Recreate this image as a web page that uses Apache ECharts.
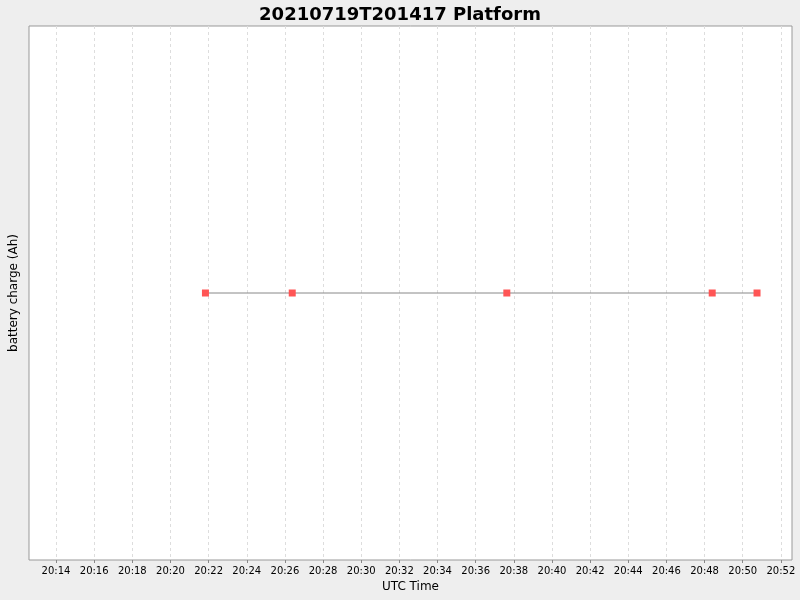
<!DOCTYPE html>
<html><head><meta charset="utf-8">
<script src="https://cdn.jsdelivr.net/npm/echarts@6/dist/echarts.min.js"></script>
<style>html,body{margin:0;background:#eeeeee}#c{width:800px;height:600px}</style>
</head><body><div id="c"></div>
<script>
const times = ["2021-07-19T20:21:50Z","2021-07-19T20:26:23Z","2021-07-19T20:37:38Z","2021-07-19T20:48:24Z","2021-07-19T20:50:45Z"];
const values = [0,0,0,0,0];
const tickLabels = ["20:14","20:16","20:18","20:20","20:22","20:24","20:26","20:28","20:30","20:32","20:34","20:36","20:38","20:40","20:42","20:44","20:46","20:48","20:50","20:52"];
const xMin = "2021-07-19T20:12:35Z", xMax = "2021-07-19T20:52:35Z";
const tickVals = tickLabels.map(s => new Date("2021-07-19T"+s+":00Z").getTime());
const chart = echarts.init(document.getElementById('c'));
const pad = n => String(n).padStart(2,'0');
chart.setOption({
  backgroundColor: '#eeeeee',
  title: {text: '20210719T201417 Platform', left: 'center', top: 1,
    textStyle: {fontFamily: 'DejaVu Sans', fontWeight: 'bold', fontSize: 18, color: '#000'}},
  grid: {left: 27, right: 8, top: 26, bottom: 40, show: true, backgroundColor: '#fff', borderColor: '#999', borderWidth: 1},
  xAxis: {type: 'value', min: new Date(xMin).getTime(), max: new Date(xMax).getTime(),
    name: 'UTC Time', nameLocation: 'middle', nameGap: 20,
    nameTextStyle: {fontFamily: 'DejaVu Sans', fontSize: 12, color: '#000'},
    axisLine: {show: false, onZero: false},
    axisTick: {show: true, length: 3, lineStyle: {color: '#888'}, customValues: tickVals},
    axisLabel: {fontFamily: 'DejaVu Sans', fontSize: 10, color: '#000', margin: 6, customValues: tickVals,
      showMinLabel: true, showMaxLabel: true,
      formatter: v => { const d = new Date(v); return pad(d.getUTCHours())+':'+pad(d.getUTCMinutes()); }},
    splitLine: {show: true, lineStyle: {color: '#dddddd', type: [3,3]}}},
  yAxis: {type: 'value', min: -1, max: 1,
    name: 'battery charge (Ah)', nameLocation: 'middle', nameGap: 9,
    nameTextStyle: {fontFamily: 'DejaVu Sans', fontSize: 12, color: '#000'},
    axisLine: {show: false}, axisTick: {show: false}, axisLabel: {show: false}, splitLine: {show: false}},
  series: [{type: 'line', data: times.map((t,i)=>[new Date(t).getTime(), values[i]]),
    symbol: 'rect', symbolSize: 7, itemStyle: {color: '#ff5555'},
    lineStyle: {color: '#888888', width: 1}, animation: false}]
});
</script></body></html>
